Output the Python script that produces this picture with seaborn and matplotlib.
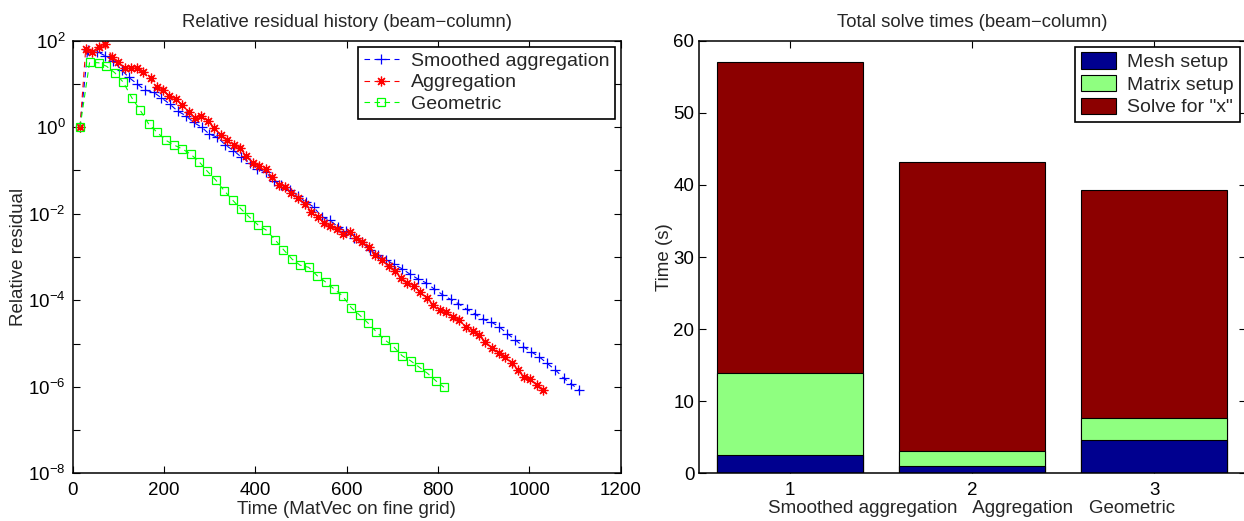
import numpy as np
import pandas as pd
import matplotlib
matplotlib.use("Agg")
import matplotlib.pyplot as plt
import seaborn as sns
from matplotlib.patches import Patch
from matplotlib.ticker import FixedLocator, FixedFormatter, NullFormatter

# ---------------- data: left panel (residual history) ----------------
# x = MatVecs on fine grid, values = log10(relative residual)
sa_x = [16, 33, 52.8, 71.5, 89, 107.5, 123, 140, 158, 177, 194, 212, 230, 247.4, 264.6,
        282.6, 299, 317, 334.2, 352, 369.4, 387.5, 404.6, 422.6, 440, 457, 475, 493, 510,
        527.4, 545, 563, 580.6, 598.5, 615.7, 633, 651, 668, 686, 703, 721, 739, 756.5,
        774.5, 791.7, 809.6, 827.6, 844.8, 862.8, 880, 898, 916, 933.4, 951.4, 968.6,
        986.6, 1003.8, 1021.8, 1039, 1057, 1075, 1092, 1109.3]
sa_log = [0, 1.785, 1.75, 1.65, 1.53, 1.32, 1.15, 1.01, 0.86, 0.81, 0.68, 0.54, 0.37, 0.27,
          0.11, 0.0, -0.16, -0.23, -0.41, -0.54, -0.69, -0.82, -0.97, -1.03, -1.24, -1.34,
          -1.44, -1.58, -1.73, -1.84, -2.07, -2.15, -2.30, -2.41, -2.55, -2.65, -2.84, -2.95,
          -3.07, -3.17, -3.27, -3.40, -3.51, -3.60, -3.74, -3.87, -3.98, -4.08, -4.21, -4.31,
          -4.44, -4.50, -4.61, -4.77, -4.91, -5.07, -5.19, -5.31, -5.46, -5.61, -5.80, -5.94,
          -6.07]

ag_x = [16, 28.5, 42.7, 56.7, 71.5, 86.4, 99.6, 113.7, 127.8, 141, 155, 170.8, 184, 197.4,
        211.5, 225.6, 239.6, 254.5, 267.8, 281.8, 296, 310, 324, 338, 353, 366, 380.4, 395.3,
        408.5, 422.6, 436.7, 450.8, 464.9, 479, 493, 508.7, 522.8, 536.9, 551, 564, 579,
        592.4, 606.5, 619.6, 633.7, 648.6, 662.7, 676.8, 691.6, 704.9, 719, 733, 747, 761.2,
        776, 789.3, 803.4, 818.3, 832.4, 846.5, 861.4, 875.5, 889.6, 903.7, 917.8, 932.7,
        946, 960.9, 974.2, 988.3, 1002.4, 1017.2, 1030.5]
ag_log = [0, 1.81, 1.75, 1.86, 1.92, 1.63, 1.50, 1.38, 1.36, 1.37, 1.28, 1.13, 0.92, 0.85,
          0.73, 0.65, 0.51, 0.35, 0.21, 0.25, 0.15, -0.02, -0.18, -0.29, -0.40, -0.49, -0.66,
          -0.82, -0.90, -0.97, -1.15, -1.34, -1.38, -1.53, -1.63, -1.78, -1.95, -2.07, -2.22,
          -2.28, -2.36, -2.46, -2.43, -2.56, -2.66, -2.77, -2.95, -3.07, -3.21, -3.33, -3.48,
          -3.60, -3.66, -3.81, -3.94, -4.11, -4.22, -4.27, -4.39, -4.46, -4.62, -4.71, -4.81,
          -4.96, -5.10, -5.22, -5.32, -5.46, -5.62, -5.78, -5.83, -5.97, -6.08]

ge_x = [16, 37, 56.7, 74, 92, 110.7, 129.5, 148, 166, 185, 203.6, 221.6, 239.6, 258, 277,
        295, 314, 332, 350.6, 368.6, 387, 406, 424, 443, 461.6, 480.4, 498, 517, 535, 554,
        572.7, 591, 610, 629, 647, 665, 684, 702.5, 721, 740, 758, 777, 795, 813]
ge_log = [0, 1.50, 1.49, 1.41, 1.26, 1.04, 0.68, 0.39, 0.08, -0.12, -0.30, -0.41, -0.50,
          -0.62, -0.80, -1.02, -1.23, -1.47, -1.69, -1.89, -2.08, -2.26, -2.38, -2.60, -2.83,
          -3.05, -3.19, -3.24, -3.43, -3.58, -3.74, -3.90, -4.17, -4.35, -4.53, -4.73, -4.92,
          -5.07, -5.28, -5.40, -5.54, -5.69, -5.86, -6.01]

series_names = ["Smoothed aggregation", "Aggregation", "Geometric"]

# ---------------- data: right panel (solve times) ----------------
methods = ["1", "2", "3"]
method_names = "Smoothed aggregation   Aggregation   Geometric"
mesh_setup = [2.6, 1.05, 4.6]
matrix_setup = [11.25, 2.1, 3.05]
solve_x = [43.15, 40.05, 31.65]
bar_labels = ["Mesh setup", "Matrix setup", 'Solve for "x"']

# ---------------- style ----------------
sns.set_theme(style="ticks")
plt.rcParams["font.family"] = ["Liberation Sans", "DejaVu Sans"]
plt.rcParams["mathtext.fontset"] = "custom"
plt.rcParams["mathtext.rm"] = "Liberation Sans"
plt.rcParams["mathtext.it"] = "Liberation Sans:italic"
plt.rcParams["axes.linewidth"] = 1.1
plt.rcParams["axes.edgecolor"] = "black"

FS = 13.5
fig = plt.figure(figsize=(12.44, 5.21), dpi=100)
W, H = 1244, 521
axL = fig.add_axes([72.7 / W, (H - 473.3) / H, (620.7 - 72.7) / W, (473.3 - 40.7) / H])
axR = fig.add_axes([698.5 / W, (H - 473.3) / H, (1245.5 - 698.5) / W, (473.3 - 40.7) / H])

# ---------------- left panel ----------------
colors = ["#0000FF", "#FF0000", "#00FF00"]
markers = ["+", (8, 2, 0), "s"]
msizes = [7, 7, 6]
for xs, ls, name, c, m, ms in zip([sa_x, ag_x, ge_x], [sa_log, ag_log, ge_log],
                                  series_names, colors, markers, msizes):
    d = pd.DataFrame({"x": xs, "y": np.power(10.0, ls)})
    sns.lineplot(data=d, x="x", y="y", ax=axL, sort=False, estimator=None,
                 color=c, linestyle=(0, (5, 4)), linewidth=0.8,
                 marker=m, markersize=ms, markeredgecolor=c, markeredgewidth=0.9,
                 markerfacecolor="none" if m == "s" else c, label=name)

axL.set_yscale("log")
axL.set_xlim(0, 1200)
axL.set_ylim(1e-8, 1e2)
axL.xaxis.set_major_locator(FixedLocator([0, 200, 400, 600, 800, 1000, 1200]))
maj = [1e-8, 1e-6, 1e-4, 1e-2, 1e0, 1e2]
axL.yaxis.set_major_locator(FixedLocator(maj))
axL.yaxis.set_major_formatter(FixedFormatter([r"$10^{-8}$", r"$10^{-6}$", r"$10^{-4}$",
                                              r"$10^{-2}$", r"$10^{0}$", r"$10^{2}$"]))
axL.yaxis.set_minor_locator(FixedLocator([1e-7, 1e-5, 1e-3, 1e-1, 1e1]))
axL.yaxis.set_minor_formatter(NullFormatter())
axL.tick_params(axis="both", which="both", direction="in", length=5, width=0.8,
                top=True, right=True, labelsize=FS, colors="black")
axL.tick_params(axis="x", pad=6)
axL.tick_params(axis="y", pad=5)
axL.set_title("Relative residual history (beam\u2212column)", fontsize=13.3, pad=10)
axL.set_xlabel("Time (MatVec on fine grid)", fontsize=FS, labelpad=2)
axL.set_ylabel("Relative residual", fontsize=FS, labelpad=1)
legL = axL.legend(loc="upper right", fontsize=14, frameon=True, fancybox=False,
                  edgecolor="black", framealpha=1, borderaxespad=0.3, labelspacing=0.2,
                  handlelength=1.8, handletextpad=0.6, borderpad=0.3)
legL.get_frame().set_linewidth(1.2)

# ---------------- right panel ----------------
tot = [a + b + c for a, b, c in zip(mesh_setup, matrix_setup, solve_x)]
low2 = [a + b for a, b in zip(mesh_setup, matrix_setup)]
bar_cols = ["#00008F", "#8FFF80", "#8C0000"]
for vals, col in zip([tot, low2, mesh_setup], [bar_cols[2], bar_cols[1], bar_cols[0]]):
    sns.barplot(x=methods, y=vals, ax=axR, color=col, width=0.8, saturation=1,
                edgecolor="black", linewidth=0.8)
axR.set_xlim(-0.5, 2.5)
axR.set_ylim(0, 60)
axR.yaxis.set_major_locator(FixedLocator([0, 10, 20, 30, 40, 50, 60]))
axR.tick_params(axis="both", which="both", direction="in", length=5, width=0.8,
                top=True, right=True, labelsize=FS, colors="black")
axR.tick_params(axis="x", pad=6)
axR.tick_params(axis="y", pad=3)
axR.set_title("Total solve times (beam\u2212column)", fontsize=13.3, pad=10)
axR.set_xlabel(method_names, fontsize=FS, labelpad=1)
axR.set_ylabel("Time (s)", fontsize=FS, labelpad=0)
handles = [Patch(facecolor=c, edgecolor="black", linewidth=0.8) for c in bar_cols]
legR = axR.legend(handles, bar_labels, loc="upper right", fontsize=14, frameon=True,
                  fancybox=False, edgecolor="black", framealpha=1,
                  borderaxespad=0.3, labelspacing=0.2,
                  handlelength=1.8, handleheight=0.9, handletextpad=0.6, borderpad=0.3)
legR.get_frame().set_linewidth(1.2)

fig.savefig("out.png", dpi=100)
